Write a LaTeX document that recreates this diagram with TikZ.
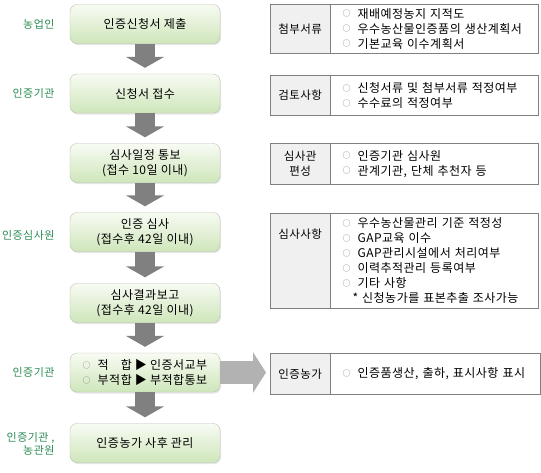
\documentclass[tikz,border=0pt]{standalone}
\usepackage{fontspec}
\setmainfont[LetterSpace=4]{Noto Sans CJK KR}
\usetikzlibrary{shadows,arrows.meta,calc}
\definecolor{cgreen}{RGB}{45,140,85}
\definecolor{ctop}{RGB}{248,251,243}
\definecolor{cbot}{RGB}{206,230,186}
\definecolor{cedge}{RGB}{185,195,175}
\definecolor{cdark}{RGB}{128,128,128}
\definecolor{clight}{RGB}{178,178,178}
\definecolor{clab}{RGB}{240,240,240}
\newcommand{\opt}{\makebox[15pt][l]{\raisebox{1.2pt}{\color{gray}\fontsize{8}{8}\selectfont ○}}}
\tikzset{
  stepbox/.style={draw=cedge, rounded corners=7pt, top color=ctop, bottom color=cbot,
    minimum width=150pt, minimum height=39pt, align=center, inner sep=2pt,
    font=\fontsize{12}{15.5}\selectfont,
    drop shadow={opacity=0.2,shadow xshift=1pt,shadow yshift=-1.5pt}},
  who/.style={text=cgreen, anchor=east, align=right, font=\fontsize{11}{13}\selectfont},
  labcell/.style={draw=cdark, fill=clab, minimum width=60pt, inner sep=0pt, align=center,
    font=\fontsize{11.5}{15}\selectfont},
  infocell/.style={draw=cdark, fill=white, anchor=west, text width=184pt, inner xsep=12pt,
    inner ysep=0pt, align=left, font=\fontsize{12}{15}\selectfont},
  downarr/.style={draw=cdark, line width=20pt, -{Triangle[width=38pt,length=11pt]}},
  sidearr/.style={draw=clight, line width=23pt, -{Triangle[width=40pt,length=13pt]}, shorten >=4pt},
}
\begin{document}
\begin{tikzpicture}[x=1pt,y=-1pt]
  \useasboundingbox[fill=white] (0,0) rectangle (541,472);
  % steps
  \node[stepbox] (b1) at (145,24)    {인증신청서 제출};
  \node[stepbox] (b2) at (145,93.5)  {신청서 접수};
  \node[stepbox] (b3) at (145,163)   {심사일정 통보\\(접수 10일 이내)};
  \node[stepbox] (b4) at (145,232)   {인증 심사\\(접수후 42일 이내)};
  \node[stepbox] (b5) at (145,303)   {심사결과보고\\(접수후 42일 이내)};
  \node[stepbox, align=left] (b6) at (145,372.5)
    {\opt 적\makebox[12pt]{}합 ▶ 인증서교부\\\opt 부적합 ▶ 부적합통보};
  \node[stepbox] (b7) at (145,443)   {인증농가 사후 관리};
  \foreach \a/\b in {b1/b2,b2/b3,b3/b4,b4/b5,b5/b6,b6/b7}
    \draw[downarr] (\a.south) -- ($(\b.north)+(0,-6)$);
  % who
  \node[who] (w1) at (58,24)    {농업인};
  \node[who] (w2) at (58,93.5)  {인증기관};
  \node[who] (w3) at (58,235)   {인증심사원};
  \node[who] (w4) at (58,372.5) {인증기관};
  \node[who] (w5) at (58,443.5) {인증기관 ,\\농관원};
  % notes
  \node[labcell, minimum height=49pt, anchor=north west] (l1) at (270,4) {첨부서류};
  \node[infocell, minimum height=49pt] (c1) at (l1.east)
    {\opt 재배예정농지 지적도\\\opt 우수농산물인증품의 생산계획서\\\opt 기본교육 이수계획서};
  \node[labcell, minimum height=40pt, anchor=north west] (l2) at (270,75) {검토사항};
  \node[infocell, minimum height=40pt] (c2) at (l2.east)
    {\opt 신청서류~및~첨부서류~적정여부\\\opt 수수료의 적정여부};
  \node[labcell, minimum height=41pt, anchor=north west] (l3) at (270,143) {심사관\\편성};
  \node[infocell, minimum height=41pt] (c3) at (l3.east)
    {\opt 인증기관 심사원\\\opt 관계기관, 단체 추천자 등};
  \node[labcell, minimum height=95pt, anchor=north west] (l4) at (270,213) {};
  \node[labcell, draw=none, fill=none] (t4) at ($(l4.north)+(0,21)$) {심사사항};
  \node[infocell, minimum height=95pt] (c4) at (l4.east)
    {\opt 우수농산물관리 기준 적정성\\\opt GAP교육 이수\\\opt GAP관리시설에서 처리여부\\
     \opt 이력추적관리 등록여부\\\opt 기타 사항\\\hspace*{10pt}* 신청농가를 표본추출 조사가능};
  \node[labcell, minimum height=41pt, anchor=north west] (l5) at (270,353) {인증농가};
  \node[infocell, minimum height=41pt, text width=186pt] (c5) at (l5.east)
    {\opt 인증품생산,~출하,~표시사항~표시};
  \draw[sidearr] (b6.east) -- (b6.east -| l5.west);
\end{tikzpicture}
\end{document}
